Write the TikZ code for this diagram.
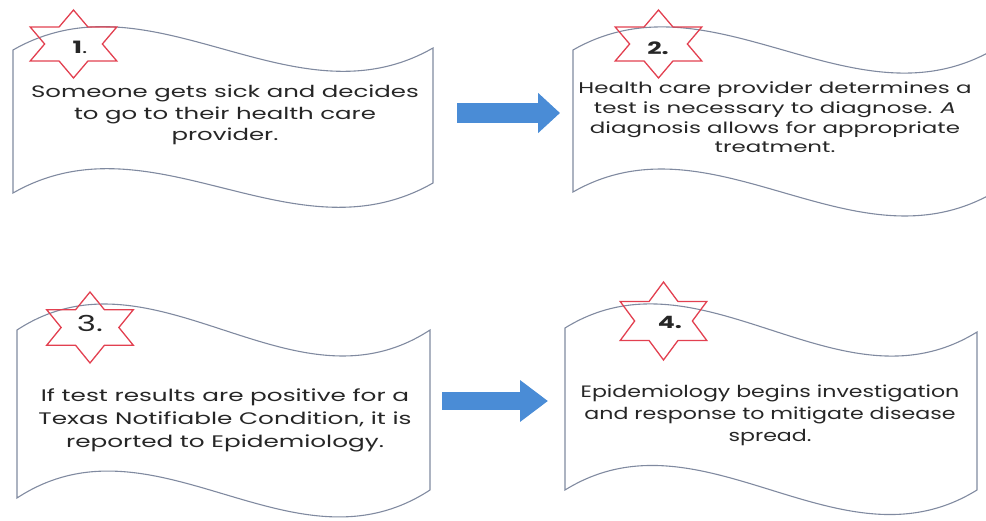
\documentclass[tikz,border=0pt]{standalone}
\usepackage{fontspec}
\setmainfont{Poppins}[FakeStretch=1.48]
\newfontfamily\slimfont{Poppins}[FakeStretch=1.34]
\usetikzlibrary{arrows.meta}
\definecolor{waveline}{RGB}{128,138,160}
\definecolor{starred}{RGB}{226,64,80}
\definecolor{arrowblue}{RGB}{74,140,214}
\definecolor{inktext}{RGB}{38,38,38}

% left, right, top-left, top-right, bottom-left, bottom-right, swing
\newcommand\wavepath[7]{%
  \draw[waveshape] (#1,#3) .. controls ({#1+(#2-#1)/3},{#3-#7}) and ({#1+2*(#2-#1)/3},{#4+#7}) .. (#2,#4)
    -- (#2,#6) .. controls ({#1+2*(#2-#1)/3},{#6+#7}) and ({#1+(#2-#1)/3},{#5-#7}) .. (#1,#5) -- cycle;}
% centre x, centre y, half width, half height
\newcommand\hexstar[4]{%
  \draw[starshape] ({#1},{#2-#4}) \foreach \k in {0,...,5}{
    -- ({#1+0.5774*#3*sin(\k*60+30)},{#2-0.5774*#4*cos(\k*60+30)})
    -- ({#1+#3*sin(\k*60+60)},{#2-#4*cos(\k*60+60)})} -- cycle;}

\begin{document}
\begin{tikzpicture}[x=1pt,y=-1pt,
    waveshape/.style={draw=waveline, line width=1.1pt},
    starshape/.style={draw=starred, line width=1.3pt, line join=miter},
    stepnum/.style={text=inktext, font=\fontsize{17}{17}\selectfont},
    steptext/.style={text=inktext, align=center, inner sep=0pt},
    bigarrow/.style={arrowblue, line width=#1}]
  \useasboundingbox (0,0) rectangle (986,521);
  \clip (0,0) rectangle (986,521);

  % the four waves
  \wavepath{13}{433}{50}{48}{193}{183}{80}
  \wavepath{573}{993}{50}{50}{192}{193}{80}
  \wavepath{17}{430}{330}{330}{498}{490}{90}
  \wavepath{565}{977}{328}{332}{490}{490}{85}

  % stars with their numbers
  \hexstar{73.5}{44}{50}{34}
  \hexstar{658.5}{44}{50}{34}
  \hexstar{90}{327.5}{50}{35.5}
  \hexstar{663.5}{321}{50}{39}
  \node [stepnum] (n1) at (80,47) {\textbf{1}.};
  \node [stepnum] (n2) at (658,48) {\textbf{2.}};
  \node [stepnum, font=\fontsize{22}{22}\selectfont] (n3) at (90,323) {3.};
  \node [stepnum] (n4) at (670,322) {\textbf{4.}};

  % texts
  \node [steptext, font=\fontsize{16.5}{21.5}\selectfont] (t1) at (225,115)
    {Someone gets sick and decides\\to go to their health care\\provider.};
  \node [steptext, font=\fontsize{15.5}{19.7}\selectfont] (t2) at (775,117.5)
    {Health care provider determines a\\test is necessary to diagnose. \emph{A}\\diagnosis allows for appropriate\\treatment.};
  \node [steptext, font=\fontsize{16.7}{23}\selectfont] (t3) at (225,420)
    {If test results are positive for a\\Texas Notifiable Condition, it is\\reported to Epidemiology.};
  \node [steptext, font=\slimfont\fontsize{16.5}{22}\selectfont] (t4) at (770,415)
    {Epidemiology begins investigation\\and response to mitigate disease\\spread.};

  % block arrows
  \coordinate (a1s) at (457,113);
  \coordinate (a1e) at (560,113);
  \coordinate (a2s) at (442,401);
  \coordinate (a2e) at (548,401);
  \draw [bigarrow=20pt, -{Triangle[length=22pt,width=39pt]}] (a1s) -- (a1e);
  \draw [bigarrow=18pt, -{Triangle[length=28pt,width=40pt]}] (a2s) -- (a2e);
\end{tikzpicture}
\end{document}
